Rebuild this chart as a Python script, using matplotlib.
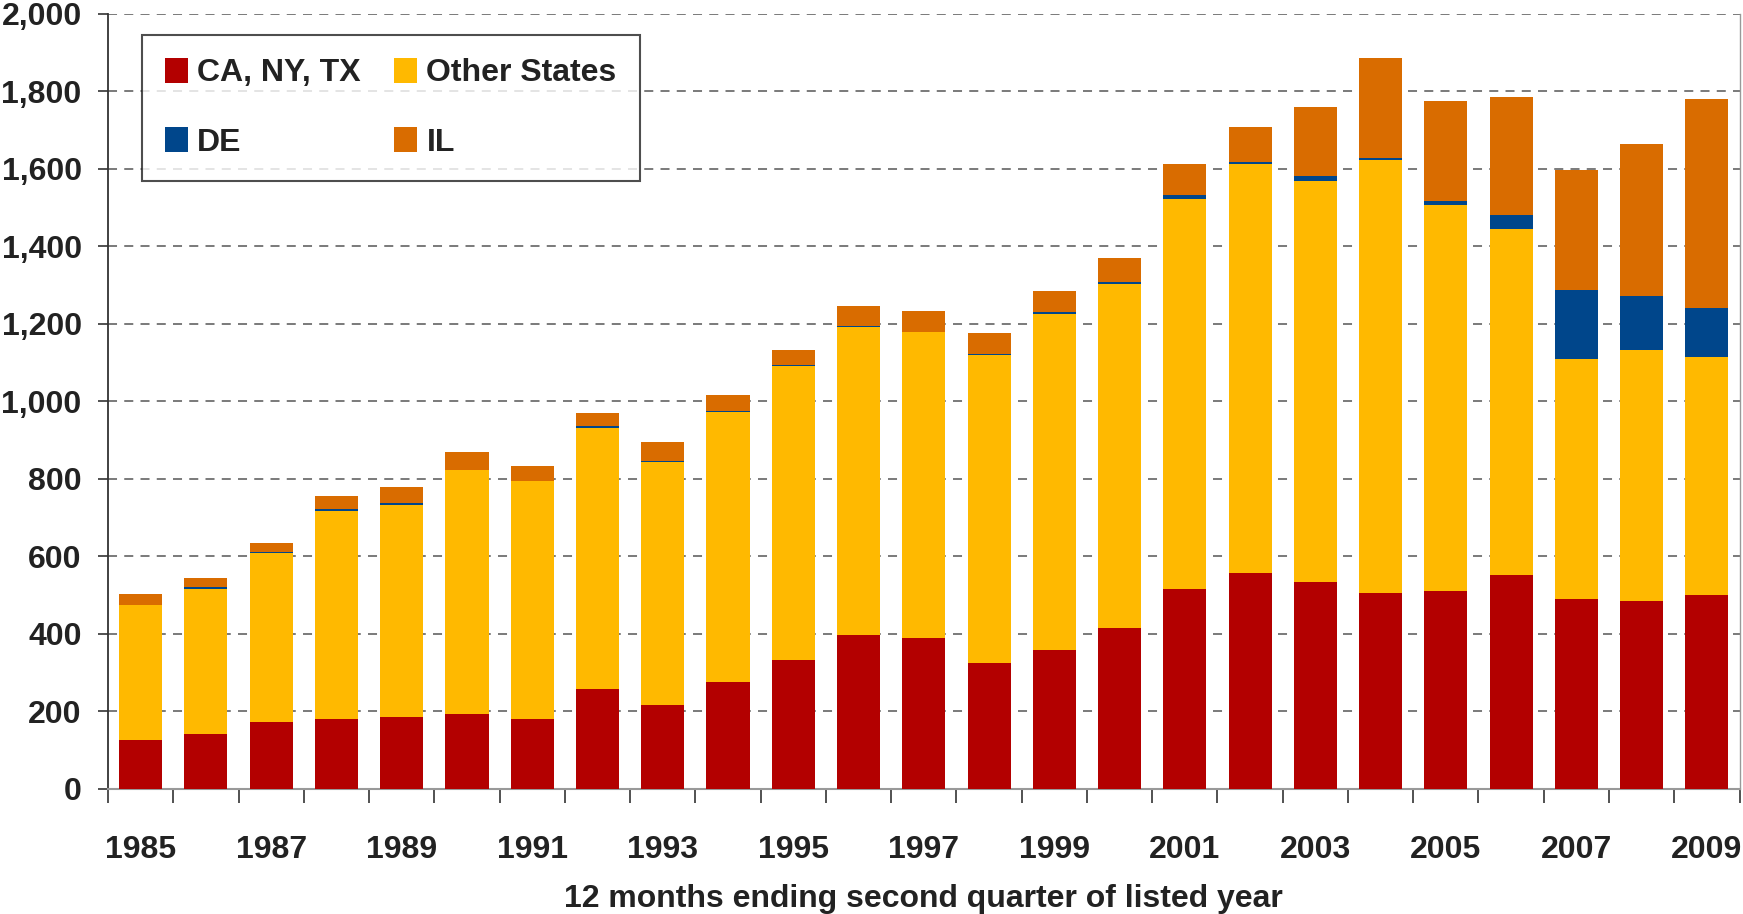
import numpy as np
import matplotlib.pyplot as plt
from matplotlib.ticker import FuncFormatter

plt.rcParams['font.family'] = ['Liberation Sans', 'DejaVu Sans']
plt.rcParams['font.weight'] = 'bold'

years = list(range(1985, 2010))
# stacked segment values (count per group)
ca_ny_tx = [126, 141, 172, 181, 186, 192, 181, 258, 215, 275, 333, 396, 390,
            324, 359, 416, 516, 557, 534, 505, 511, 551, 491, 485, 499]
other_states = [347, 375, 436, 536, 546, 631, 614, 672, 628, 698, 757, 795, 789,
                795, 866, 887, 1005, 1055, 1035, 1117, 995, 893, 619, 646, 616]
de = [0, 4, 3, 4, 5, 0, 0, 5, 3, 3, 4, 4, 0,
      2, 5, 4, 11, 5, 12, 6, 10, 36, 176, 140, 125]
il = [29, 25, 23, 34, 43, 46, 37, 35, 49, 40, 39, 50, 55,
      55, 55, 62, 80, 91, 178, 258, 259, 305, 310, 393, 540]

series = [("CA, NY, TX", ca_ny_tx, "#B30000"),
          ("Other States", other_states, "#FFB900"),
          ("DE", de, "#00468B"),
          ("IL", il, "#D96C00")]

fig = plt.figure(figsize=(17.43, 9.14), dpi=100)
ax = fig.add_axes([0.062, 0.137, 0.936, 0.848])

x = np.arange(len(years))
bottom = np.zeros(len(years))
bars = {}
for name, vals, col in series:
    bars[name] = ax.bar(x, vals, width=0.66, bottom=bottom, color=col, label=name, zorder=3)
    bottom += np.array(vals)

ax.set_xlim(-0.5, len(years) - 0.5)
ax.set_ylim(0, 2000)
ax.set_yticks(range(0, 2001, 200))
ax.yaxis.set_major_formatter(FuncFormatter(lambda v, p: f"{int(v):,}"))
ax.grid(axis='y', color='#707070', linestyle=(0, (5, 4)), linewidth=1.3, zorder=0)

ax.set_xticks(x[::2])
ax.set_xticklabels([str(y) for y in years[::2]])
ax.set_xticks(np.arange(-0.5, len(years)), minor=True)
ax.tick_params(axis='x', which='major', length=0, pad=33, labelsize=23, colors='#222222')
ax.tick_params(axis='x', which='minor', length=10, width=1.2, color='#333333')
ax.tick_params(axis='y', length=7, width=1.2, color='#333333', labelsize=23,
               labelcolor='#222222', pad=12)

ax.spines['top'].set_visible(False)
ax.spines['left'].set_color('#333333')
ax.spines['left'].set_linewidth(1.3)
ax.spines['bottom'].set_color('#999999')
ax.spines['bottom'].set_linewidth(1.5)
ax.spines['right'].set_color('#999999')
ax.spines['right'].set_linewidth(1.0)

ax.set_xlabel("12 months ending second quarter of listed year", fontsize=23,
              fontweight='bold', color='#222222', labelpad=14)

# row-wise order like the original legend
order = ["CA, NY, TX", "DE", "Other States", "IL"]
leg = ax.legend([bars[n] for n in order], order, loc='upper left',
                bbox_to_anchor=(0.021, 0.973), borderaxespad=0, ncol=2, fontsize=23,
                frameon=True, fancybox=False, edgecolor='#222222', handlelength=0.7,
                handleheight=0.85, handletextpad=0.3, columnspacing=1.05,
                labelspacing=1.2, borderpad=0.72, labelcolor='#222222')
leg.get_frame().set_linewidth(1.5)
leg.set_zorder(5)

fig.savefig("out.png", dpi=100, facecolor='white')
